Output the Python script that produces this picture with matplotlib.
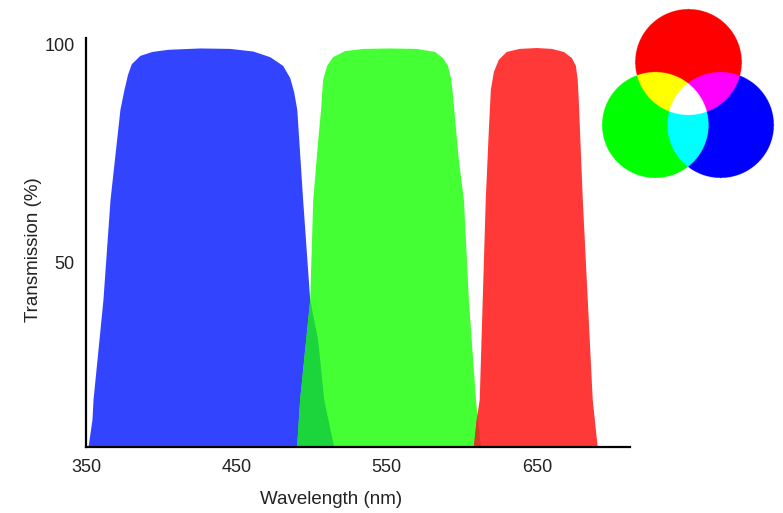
import matplotlib.pyplot as plt
import numpy as np

plt.rcParams['font.family'] = ['Liberation Sans', 'DejaVu Sans']

# transmission curves (wavelength nm, transmission %)
blue_nm = [349, 351.7, 354.3, 355.0, 358.3, 361.6, 366.3, 372.9, 375.6, 378.0, 380.5, 386.2, 394.2, 405, 426,
           446, 461.3, 472.6, 481.2, 485.9, 488.5, 490.6, 494.5, 499.2, 504.5, 508.5, 515.1, 520]
blue_pct = [0, 7.8, 14, 18.6, 30, 41.5, 64.4, 85.1, 89.7, 93.2, 95.6, 97.5, 98.4, 98.9, 99.2,
            99.1, 98.5, 97.2, 95.2, 92.4, 89.2, 85.1, 64.4, 41.5, 32.3, 18.6, 7.8, 0]

green_nm = [488, 490.5, 492.5, 496.5, 499.2, 501.2, 504.5, 506.4, 507.8, 510.4, 514.4, 522.4, 535, 552,
            570, 582.3, 587.6, 590.9, 592.9, 594.2, 598, 601.5, 604.8, 609.5, 612.8, 615]
green_pct = [0, 7.8, 18.6, 32.3, 41.5, 64.4, 78, 85.1, 92, 95.2, 97.2, 98.6, 99.1, 99.2,
             99.1, 98.4, 97.0, 95.2, 92.4, 88.5, 74, 64.4, 41.5, 18.6, 7.8, 0]

red_nm = [606, 608.1, 610.0, 612.0, 614.0, 616.0, 618.0, 619.4, 621.4, 624.7, 630, 638.6, 650, 660,
          668, 673.3, 676, 677.2, 677.9, 679, 680.6, 683.9, 687.2, 690.5, 693]
red_pct = [0, 7.8, 14, 18.6, 41.5, 64.4, 80, 89.7, 93.8, 96.6, 98.4, 99.1, 99.3, 99.1,
           98.4, 97.0, 95.2, 92, 87.4, 78, 64.4, 41.5, 18.6, 7.8, 0]

x_ticks = [350, 450, 550, 650]
y_ticks = [50, 100]

# RGB icon circles (figure pixels, y down)
icon_red = (688, 62)
icon_green = (655, 125)
icon_blue = (720, 125)
icon_r = 53

fig = plt.figure(figsize=(7.83, 5.13), dpi=100)
ax = fig.add_axes([86/783, 66/513, 544/783, 409/513])

blue_poly = ax.fill(blue_nm, blue_pct, color='#3344FF', lw=0)[0]
green_poly = ax.fill(green_nm, green_pct, color='#44FF33', lw=0)[0]
# overlap of blue and green shows darker green
dg = ax.fill(green_nm, green_pct, color='#1CD43C', lw=0)[0]
dg.set_clip_path(blue_poly)
red_poly = ax.fill(red_nm, red_pct, color='#FF3838', lw=0)[0]
# overlap of green and red shows darker red
dr = ax.fill(red_nm, red_pct, color='#D63A24', lw=0)[0]
dr.set_clip_path(green_poly)

ax.set_xlim(350, 712)
ax.set_ylim(7.8, 101.6)
ax.set_xticks(x_ticks)
ax.set_yticks(y_ticks)
ax.tick_params(length=0, labelsize=13, labelcolor='#222222')
ax.tick_params(axis='x', pad=9)
ax.tick_params(axis='y', pad=8)
for s in ['top', 'right']:
    ax.spines[s].set_visible(False)
for s in ['left', 'bottom']:
    ax.spines[s].set_linewidth(1.6)

fig.text(331/783, 1 - 500/513, 'Wavelength (nm)', fontsize=13.5, color='#222222',
         ha='center', va='center')
fig.text(33/783, 1 - 250/513, 'Transmission (%)', fontsize=13.5, color='#222222',
         ha='center', va='center', rotation=90)

# additive RGB icon
x0, x1, y0, y1 = 598, 778, 3, 185
iax = fig.add_axes([x0/783, 1 - y1/513, (x1 - x0)/783, (y1 - y0)/513])
gx, gy = np.meshgrid(np.linspace(x0, x1, 720), np.linspace(y0, y1, 728))
img = np.ones((728, 720, 3))
inr = (gx - icon_red[0])**2 + (gy - icon_red[1])**2 < icon_r**2
ing = (gx - icon_green[0])**2 + (gy - icon_green[1])**2 < icon_r**2
inb = (gx - icon_blue[0])**2 + (gy - icon_blue[1])**2 < icon_r**2
anyc = inr | ing | inb
img[anyc] = 0
img[..., 0][inr] = 1
img[..., 1][ing] = 1
img[..., 2][inb] = 1
iax.imshow(img, extent=[x0, x1, y1, y0], interpolation='antialiased')
iax.axis('off')

fig.savefig('out.png', dpi=100)
